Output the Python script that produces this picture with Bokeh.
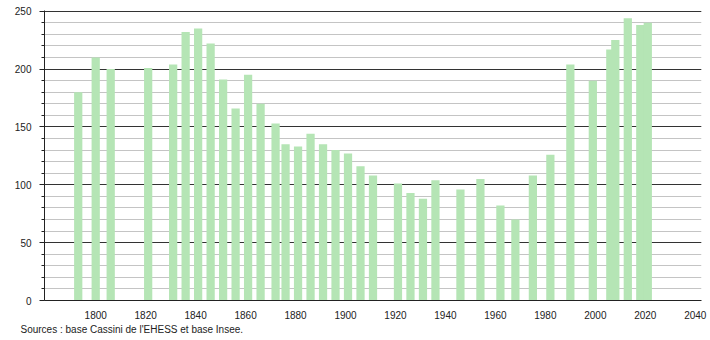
from bokeh.plotting import figure
from bokeh.models import SingleIntervalTicker, FixedTicker, Range1d, Title
from bokeh.embed import file_html
from bokeh.resources import INLINE

years = [1793, 1800, 1806, 1821, 1831, 1836, 1841, 1846, 1851, 1856, 1861, 1866,
         1872, 1876, 1881, 1886, 1891, 1896, 1901, 1906, 1911, 1921, 1926, 1931,
         1936, 1946, 1954, 1962, 1968, 1975, 1982, 1990, 1999, 2006, 2008, 2013,
         2018, 2021]
population = [180, 210, 200, 201, 204, 232, 235, 222, 191, 166, 195, 170,
              153, 135, 133, 144, 135, 130, 127, 116, 108, 101, 93, 88,
              104, 96, 105, 82, 70, 108, 126, 204, 190, 217, 225, 244,
              238, 240]
x_ticks = [1800, 1820, 1840, 1860, 1880, 1900, 1920, 1940, 1960, 1980, 2000, 2020, 2040]
source_text = "Sources : base Cassini de l'EHESS et base Insee."

p = figure(width=710, height=340, output_backend="svg", toolbar_location=None,
           x_range=Range1d(1779.5, 2042.5), y_range=Range1d(0, 250.6),
           min_border_left=44, min_border_right=9, min_border_top=10,
           min_border_bottom=40)
p.outline_line_color = None
p.background_fill_color = "white"

p.vbar(x=years, top=population, width=3.3, bottom=0,
       fill_color="#b5e5b5", line_color=None)

# Y axis
p.yaxis.ticker = SingleIntervalTicker(interval=50, num_minor_ticks=5)
p.yaxis.major_tick_in = 0
p.yaxis.major_tick_out = 5
p.yaxis.minor_tick_in = 0
p.yaxis.minor_tick_out = 3
p.yaxis.axis_line_color = "#222222"
p.yaxis.major_tick_line_color = "#222222"
p.yaxis.minor_tick_line_color = "#222222"
p.yaxis.major_label_standoff = 8
p.yaxis.major_label_text_font = "Liberation Sans"
p.yaxis.major_label_text_font_size = "10px"
p.yaxis.major_label_text_color = "#222222"

# X axis
p.xaxis.ticker = FixedTicker(ticks=x_ticks)
p.xaxis.major_tick_line_color = None
p.xaxis.minor_tick_line_color = None
p.xaxis.axis_line_color = "#222222"
p.xaxis.major_label_standoff = 4
p.xaxis.major_label_text_font = "Liberation Sans"
p.xaxis.major_label_text_font_size = "10px"
p.xaxis.major_label_text_color = "#222222"

# Grids
p.xgrid.grid_line_color = None
p.ygrid.ticker = SingleIntervalTicker(interval=50, num_minor_ticks=5)
p.ygrid.grid_line_color = "#333333"
p.ygrid.grid_line_width = 1
p.ygrid.minor_grid_line_color = "#c4c4c4"
p.ygrid.level = "underlay"

src = Title(text=source_text, align="left", offset=-24,
            text_font="Liberation Sans", text_font_size="10px",
            text_font_style="normal", text_color="#222222", standoff=0)
p.add_layout(src, "below")

open("out.html", "w").write(file_html(p, INLINE))
